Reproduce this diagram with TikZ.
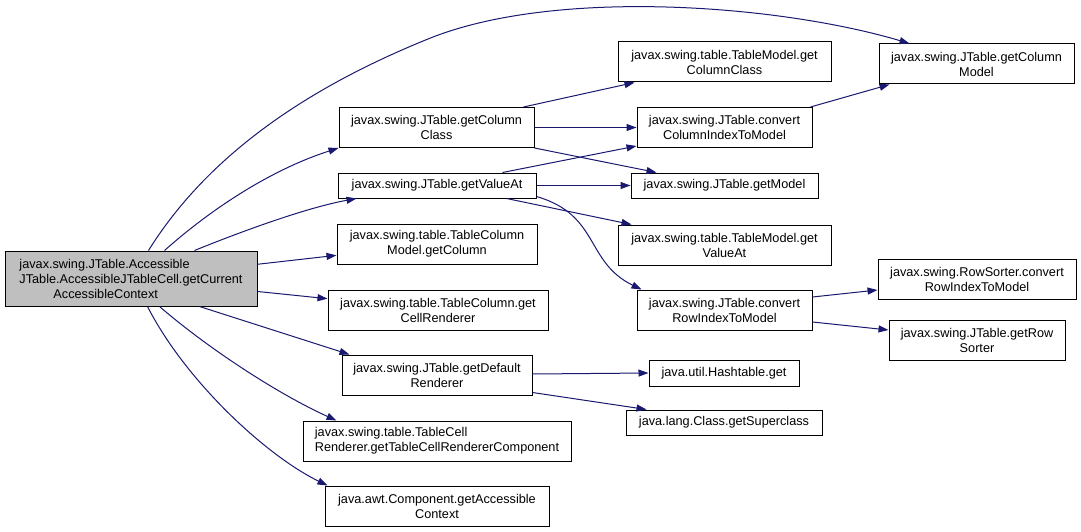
\documentclass[tikz,border=0pt]{standalone}
\usepackage{fontspec}
\setmainfont{Liberation Sans}
\usetikzlibrary{arrows.meta,calc}
\definecolor{edgec}{HTML}{191970}
\definecolor{mainfill}{HTML}{BFBFBF}
\begin{document}
\begin{tikzpicture}[x=1pt,y=-1pt,
  box/.style={draw=black,line width=1pt,fill=white,inner sep=0pt,align=center,
    font=\fontsize{12.7}{15}\selectfont},
  edge/.style={draw=edgec,line width=1pt,-{Triangle[length=10pt,width=7pt]}}]
\useasboundingbox[fill=white] (0,0) rectangle (1081,532);

\node[box,fill=mainfill,align=left,minimum width=252pt,minimum height=55pt] (main) at (131,278.5)
  {javax.swing.JTable.Accessible\\JTable.AccessibleJTableCell.getCurrent\\\hspace*{34pt}AccessibleContext};

\node[box,minimum width=195pt,minimum height=40pt] (gcc) at (436.5,127.5) {javax.swing.JTable.getColumn\\Class};
\node[box,minimum width=198pt,minimum height=25pt] (gva) at (437,185.5) {javax.swing.JTable.getValueAt};
\node[box,minimum width=200pt,minimum height=40pt] (tcmg) at (437,244) {javax.swing.table.TableColumn\\Model.getColumn};
\node[box,minimum width=220pt,minimum height=40pt] (tcgr) at (438,310) {javax.swing.table.TableColumn.get\\CellRenderer};
\node[box,minimum width=190pt,minimum height=40pt] (gdr) at (437,375) {javax.swing.JTable.getDefault\\Renderer};
\node[box,align=left,minimum width=268pt,minimum height=40pt] (tcr) at (437,441) {javax.swing.table.TableCell\\Renderer.getTableCellRendererComponent};
\node[box,minimum width=224pt,minimum height=40pt] (cgac) at (437,506) {java.awt.Component.getAccessible\\Context};

\node[box,minimum width=213pt,minimum height=40pt] (tmgcc) at (724.5,62) {javax.swing.table.TableModel.get\\ColumnClass};
\node[box,minimum width=175pt,minimum height=40pt] (ccitm) at (724.5,127.5) {javax.swing.JTable.convert\\ColumnIndexToModel};
\node[box,minimum width=187pt,minimum height=25pt] (gm) at (724.5,185.5) {javax.swing.JTable.getModel};
\node[box,minimum width=213pt,minimum height=40pt] (tmgva) at (724.5,245) {javax.swing.table.TableModel.get\\ValueAt};
\node[box,minimum width=175pt,minimum height=40pt] (critm) at (724.5,310) {javax.swing.JTable.convert\\RowIndexToModel};
\node[box,minimum width=150pt,minimum height=26pt] (hg) at (724,373) {java.util.Hashtable.get};
\node[box,minimum width=196pt,minimum height=25pt] (gsc) at (724,422.5) {java.lang.Class.getSuperclass};

\node[box,minimum width=195pt,minimum height=40pt] (gcm) at (976.5,64) {javax.swing.JTable.getColumn\\Model};
\node[box,minimum width=198pt,minimum height=40pt] (rs) at (977,279) {javax.swing.RowSorter.convert\\RowIndexToModel};
\node[box,minimum width=176pt,minimum height=40pt] (grs) at (977,340) {javax.swing.JTable.getRow\\Sorter};

% edges from main
\draw[edge] ($(main.north west)+(144,0)$) .. controls (205,160) and (300,90) .. (433,37)
  .. controls (560,-12) and (780,5) .. ($(gcm.north west)+(31,0)$);
\draw[edge] ($(main.north west)+(160,0)$) .. controls (210,210) and (270,170) .. (gcc.south west);
\draw[edge] ($(main.north west)+(190,0)$) .. controls (250,228) and (310,207) .. ($(gva.south west)+(19,0)$);
\draw[edge] (main) -- (tcmg);
\draw[edge] (main) -- (tcgr);
\draw[edge] ($(main.south west)+(195,0)$) -- ($(gdr.north west)+(8,0)$);
\draw[edge] ($(main.south west)+(155,0)$) .. controls (210,350) and (280,395) .. ($(tcr.north west)+(34,0)$);
\draw[edge] ($(main.south west)+(143,0)$) .. controls (185,380) and (265,455) .. ($(cgac.north west)+(3,0)$);

% getColumnClass
\draw[edge] ($(gcc.north east)+(-11,0)$) -- ($(tmgcc.south west)+(17,0)$);
\draw[edge] (gcc.east) -- (ccitm.west);
\draw[edge] (gcc.south east) -- ($(gm.north west)+(26,0)$);

% getValueAt
\draw[edge] ($(gva.north west)+(165,0)$) -- ($(ccitm.south west)+(0,-2)$);
\draw[edge] (gva.east) -- (gm.west);
\draw[edge] ($(gva.south west)+(169,0)$) -- ($(tmgva.north west)+(14,0)$);
\draw[edge] ($(gva.south east)+(0,-2)$) .. controls (600,215) and (585,262) .. ($(critm.north west)+(5,0)$);

% second level
\draw[edge] ($(ccitm.north east)+(-2,0)$) -- ($(gcm.south west)+(11,0)$);
\draw[edge] ($(critm.east)+(0,-13)$) -- ($(rs.west)+(0,11)$);
\draw[edge] ($(critm.east)+(0,12)$) -- ($(grs.west)+(0,-10)$);
\draw[edge] ($(gdr.east)+(0,-1)$) -- (hg.west);
\draw[edge] ($(gdr.south east)+(0,-3)$) -- ($(gsc.north west)+(21,0)$);
\end{tikzpicture}
\end{document}
